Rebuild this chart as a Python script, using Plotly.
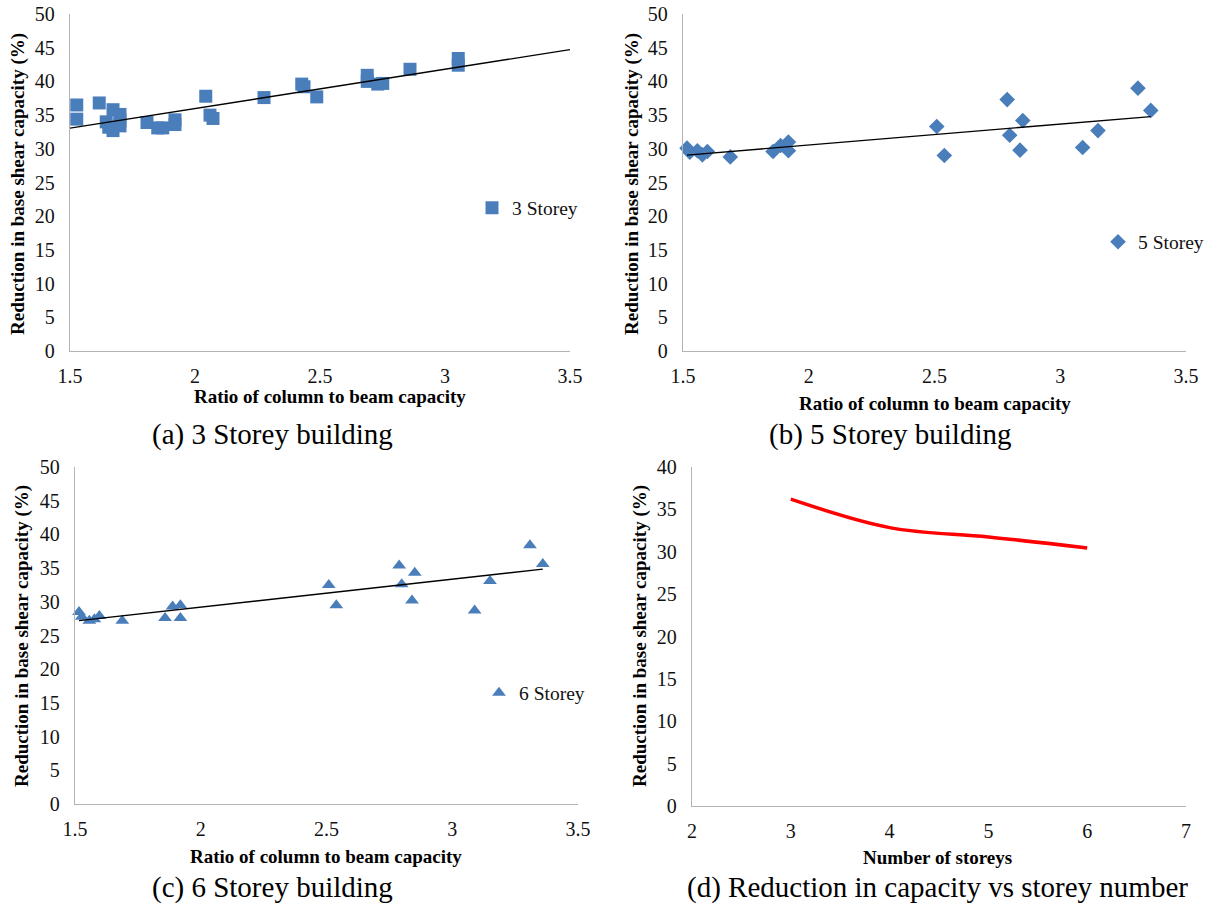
import numpy as np
import plotly.graph_objects as go

W, H = 1211, 904
FONT = "Liberation Serif, Times New Roman, serif"
BLUE = "#4a7ebb"
AXIS_GREY = "#b3b3b3"

# ---------------- data ----------------
ratio_3 = [1.527, 1.527, 1.617, 1.672, 1.700, 1.700, 1.700, 1.672, 1.655, 1.645,
           1.808, 1.851, 1.871, 1.920, 1.920, 2.043, 2.060, 2.072, 2.276, 2.427,
           2.436, 2.487, 2.689, 2.689, 2.731, 2.751, 2.860, 3.053, 3.053]
red_3 = [36.5, 34.4, 36.8, 35.8, 35.1, 34.2, 33.4, 32.7, 33.2, 34.0,
         33.9, 33.1, 33.1, 34.3, 33.6, 37.8, 35.0, 34.5, 37.6, 39.6,
         39.2, 37.7, 40.9, 40.0, 39.6, 39.7, 41.8, 43.4, 42.4]

ratio_56 = [1.516, 1.527, 1.557, 1.577, 1.597, 1.688, 1.858, 1.888, 1.919, 1.919,
            2.509, 2.539, 2.789, 2.799, 2.840, 2.851, 3.089, 3.150, 3.309, 3.360]
red_5 = [30.1, 29.5, 29.7, 29.1, 29.6, 28.8, 29.6, 30.5, 31.0, 29.7,
         33.3, 29.0, 37.3, 32.0, 29.8, 34.2, 30.2, 32.7, 39.0, 35.7]
red_6 = [28.5, 27.8, 27.2, 27.4, 27.9, 27.2, 27.6, 29.3, 29.5, 27.6,
         32.5, 29.5, 35.4, 32.6, 30.2, 34.3, 28.7, 33.1, 38.4, 35.6]

storeys = [3, 4, 5, 6]
avg_reduction = [36.2, 32.85, 31.75, 30.45]

trend_range_3 = [1.5, 3.5]

ratio_ticks = [1.5, 2, 2.5, 3, 3.5]
ratio_tick_text = ["1.5", "2", "2.5", "3", "3.5"]
red_ticks_50 = [0, 5, 10, 15, 20, 25, 30, 35, 40, 45, 50]
red_ticks_40 = [0, 5, 10, 15, 20, 25, 30, 35, 40]
storey_ticks = [2, 3, 4, 5, 6, 7]

series_names = ["3 Storey", "5 Storey", "6 Storey"]
x_title_ratio = "Ratio of column to beam capacity"
x_title_storey = "Number of storeys"
y_title = "Reduction in base shear capacity (%)"
captions = ["(a) 3 Storey building", "(b) 5 Storey building",
            "(c) 6 Storey building", "(d) Reduction in capacity vs storey number"]

TICK_SIZE = 20
TITLE_SIZE = 19
CAPTION_SIZE = 29
LEGEND_SIZE = 19.5

# ---------------- helpers ----------------
def px(x):
    return x / W

def py(y):
    return 1 - y / H

def xaxis(dom, rng, tickvals, ticktext, anchor):
    return dict(domain=[px(dom[0]), px(dom[1])], range=rng, tickvals=tickvals,
                ticktext=ticktext, showgrid=False, zeroline=False, showline=True,
                linecolor=AXIS_GREY, linewidth=1.3, ticks="", anchor=anchor,
                automargin=False,
                tickfont=dict(family=FONT, size=TICK_SIZE, color="#111"),
                ticklabelstandoff=7)

def yaxis(dom, rng, tickvals, anchor):
    return dict(domain=[py(dom[1]), py(dom[0])], range=rng, tickvals=tickvals,
                showgrid=False, zeroline=False, showline=True,
                linecolor=AXIS_GREY, linewidth=1.3, ticks="", anchor=anchor,
                automargin=False,
                tickfont=dict(family=FONT, size=TICK_SIZE, color="#111"),
                ticklabelstandoff=10)

def trend(xs, ys, xr=None):
    coef = np.polyfit(xs, ys, 1)
    if xr is None:
        xr = [min(xs), max(xs)]
    return xr, list(np.polyval(coef, xr))

fig = go.Figure()

# (a)
fig.add_trace(go.Scatter(x=ratio_3, y=red_3, mode="markers", name=series_names[0],
                         marker=dict(symbol="square", size=13, color=BLUE),
                         xaxis="x", yaxis="y", cliponaxis=False, legend="legend"))
tx, ty = trend(ratio_3, red_3, trend_range_3)
fig.add_trace(go.Scatter(x=tx, y=ty, mode="lines", line=dict(color="black", width=1.4),
                         xaxis="x", yaxis="y", showlegend=False))

# (b)
fig.add_trace(go.Scatter(x=ratio_56, y=red_5, mode="markers", name=series_names[1],
                         marker=dict(symbol="diamond", size=12, color=BLUE),
                         xaxis="x2", yaxis="y2", cliponaxis=False, legend="legend2"))
tx, ty = trend(ratio_56, red_5)
fig.add_trace(go.Scatter(x=tx, y=ty, mode="lines", line=dict(color="black", width=1.4),
                         xaxis="x2", yaxis="y2", showlegend=False))

# (c)
fig.add_trace(go.Scatter(x=ratio_56, y=red_6, mode="markers", name=series_names[2],
                         marker=dict(symbol="triangle-up", size=12, color=BLUE),
                         xaxis="x3", yaxis="y3", cliponaxis=False, legend="legend3"))
tx, ty = trend(ratio_56, red_6)
fig.add_trace(go.Scatter(x=tx, y=ty, mode="lines", line=dict(color="black", width=1.4),
                         xaxis="x3", yaxis="y3", showlegend=False))

# (d)
fig.add_trace(go.Scatter(x=storeys, y=avg_reduction, mode="lines",
                         line=dict(color="#ff0000", width=3.5, shape="spline", smoothing=1.0),
                         xaxis="x4", yaxis="y4", showlegend=False))

legend_style = dict(font=dict(family=FONT, size=LEGEND_SIZE, color="#111"),
                    bgcolor="rgba(0,0,0,0)", yanchor="middle",
                    itemwidth=30, tracegroupgap=0)

fig.update_layout(
    template="none",
    width=W, height=H, margin=dict(l=0, r=0, t=0, b=0, autoexpand=False),
    paper_bgcolor="white", plot_bgcolor="white",
    xaxis=xaxis((70, 570), [1.5, 3.5], ratio_ticks, ratio_tick_text, "y"),
    yaxis=yaxis((14, 351), [0, 50], red_ticks_50, "x"),
    xaxis2=xaxis((683, 1186), [1.5, 3.5], ratio_ticks, ratio_tick_text, "y2"),
    yaxis2=yaxis((14, 351), [0, 50], red_ticks_50, "x2"),
    xaxis3=xaxis((75, 578), [1.5, 3.5], ratio_ticks, ratio_tick_text, "y3"),
    yaxis3=yaxis((467, 804), [0, 50], red_ticks_50, "x3"),
    xaxis4=xaxis((692, 1186), [2, 7], storey_ticks, [str(v) for v in storey_ticks], "y4"),
    yaxis4=yaxis((467, 806), [0, 40], red_ticks_40, "x4"),
    legend=dict(x=px(472), y=py(208), xanchor="left", **legend_style),
    legend2=dict(x=px(1098), y=py(242), xanchor="left", **legend_style),
    legend3=dict(x=px(479), y=py(693), xanchor="left", **legend_style),
)

ann = []
def text(x, y, s, size, bold=False, angle=0):
    ann.append(dict(x=px(x), y=py(y), xref="paper", yref="paper", text=(f"<b>{s}</b>" if bold else s),
                    showarrow=False, textangle=angle, xanchor="center", yanchor="middle",
                    font=dict(family=FONT, size=size, color="#000")))

# axis titles
text(330, 396, x_title_ratio, TITLE_SIZE, True)
text(935, 403, x_title_ratio, TITLE_SIZE, True)
text(326, 856, x_title_ratio, TITLE_SIZE, True)
text(937, 857, x_title_storey, TITLE_SIZE, True)
text(18, 184, y_title, TITLE_SIZE, True, -90)
text(632, 184, y_title, TITLE_SIZE, True, -90)
text(22, 636, y_title, TITLE_SIZE, True, -90)
text(640, 636, y_title, TITLE_SIZE, True, -90)
# captions
text(272, 435, captions[0], CAPTION_SIZE)
text(890, 435, captions[1], CAPTION_SIZE)
text(272, 887, captions[2], CAPTION_SIZE)
text(937, 887, captions[3], CAPTION_SIZE)

fig.update_layout(annotations=ann)
fig.write_html("out.html")
